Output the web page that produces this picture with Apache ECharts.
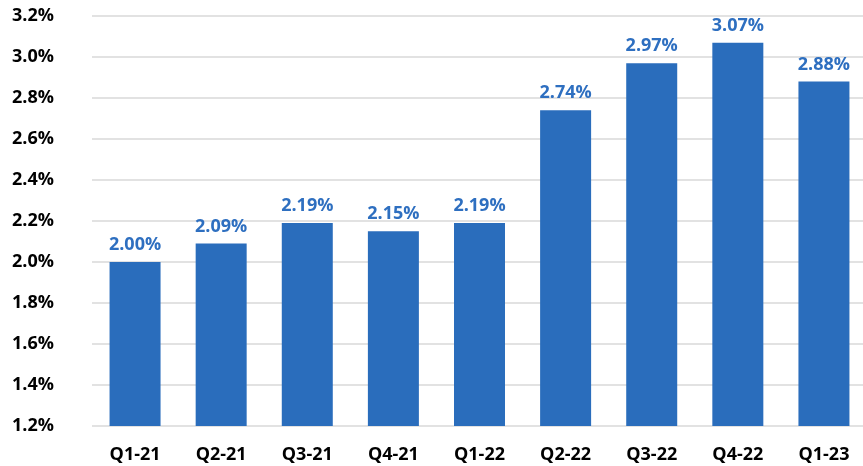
<!DOCTYPE html>
<html>
<head>
<meta charset="utf-8">
<script src="https://cdn.jsdelivr.net/npm/echarts@6/dist/echarts.min.js"></script>
<style>html,body{margin:0;padding:0;background:#fff}#c{width:863px;height:466px}</style>
</head>
<body>
<div id="c"></div>
<script>
const categories = ['Q1-21','Q2-21','Q3-21','Q4-21','Q1-22','Q2-22','Q3-22','Q4-22','Q1-23'];
const values = [2.00, 2.09, 2.19, 2.15, 2.19, 2.74, 2.97, 3.07, 2.88];
const yMin = 1.2, yMax = 3.2, yStep = 0.2;

const chart = echarts.init(document.getElementById('c'));
chart.setOption({
  animation: false,
  grid: { left: 92, top: 16, bottom: 40, width: 775, containLabel: false, outerBoundsMode: 'none' },
  xAxis: {
    type: 'category',
    data: categories,
    axisLine: { show: false },
    axisTick: { show: false },
    axisLabel: { margin: 20, color: '#000', fontFamily: 'Open Sans', fontWeight: 'bold', fontSize: 18 }
  },
  yAxis: {
    type: 'value',
    min: yMin, max: yMax, interval: yStep,
    axisLine: { show: false },
    axisTick: { show: false },
    splitLine: { lineStyle: { color: '#D9D9D9', width: 1.5 } },
    axisLabel: { margin: 38, color: '#000', fontFamily: 'Open Sans', fontWeight: 'bold', fontSize: 18,
      formatter: v => v.toFixed(1) + '%' }
  },
  series: [{
    type: 'bar',
    data: values,
    barWidth: 51,
    itemStyle: { color: '#2A6DBC' },
    label: { show: true, position: 'top', distance: 8, color: '#2E6FC0', fontFamily: 'Open Sans',
      fontWeight: 'bold', fontSize: 18, formatter: p => p.value.toFixed(2) + '%' }
  }]
});
</script>
</body>
</html>
